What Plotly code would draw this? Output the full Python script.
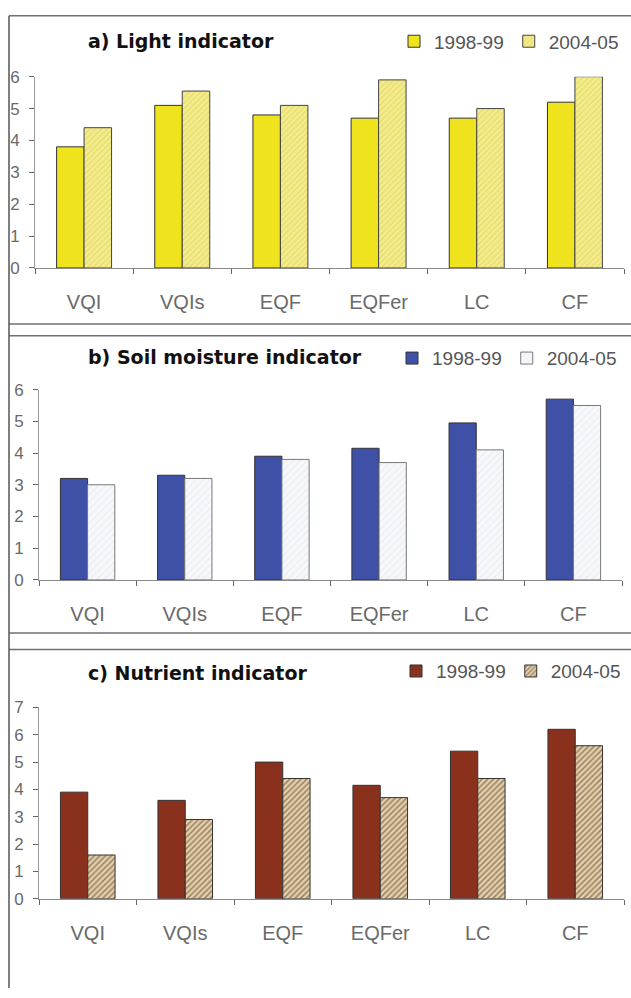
import plotly.graph_objects as go

W, H = 631, 998

categories = ["VQI", "VQIs", "EQF", "EQFer", "LC", "CF"]
series_names = ["1998-99", "2004-05"]

light_1998 = [3.8, 5.1, 4.8, 4.7, 4.7, 5.2]
light_2004 = [4.4, 5.55, 5.1, 5.9, 5.0, 6.0]

moist_1998 = [3.2, 3.3, 3.9, 4.15, 4.95, 5.7]
moist_2004 = [3.0, 3.2, 3.8, 3.7, 4.1, 5.5]

nutr_1998 = [3.9, 3.6, 5.0, 4.15, 5.4, 6.2]
nutr_2004 = [1.6, 2.9, 4.4, 3.7, 4.4, 5.6]

titles = ["a) Light indicator", "b) Soil moisture indicator", "c) Nutrient indicator"]
y_ranges = [[0, 6], [0, 6], [0, 7]]


def px_x(p):
    return p / W


def px_y(p):
    return 1 - p / H


fig = go.Figure()

panels = [
    dict(d1=light_1998, d2=light_2004, c1="#EEE31C",
         pat=dict(shape="/", bgcolor="#F4EC95", fgcolor="#D9CD2E", size=4, solidity=0.35),
         line2="#444444",
         xdom=[35, 624], ydom=[264, 69], ty=33, lx=624, ly=33),
    dict(d1=moist_1998, d2=moist_2004, c1="#3E51A6",
         pat=dict(shape="/", bgcolor="#F5F7FA", fgcolor="#CDD2DC", size=5, solidity=0.15),
         line2="#777777",
         xdom=[39, 622], ydom=[582, 388], ty=355, lx=622, ly=356),
    dict(d1=nutr_1998, d2=nutr_2004, c1="#8A311D",
         pat=dict(shape="/", bgcolor="#E6CFA8", fgcolor="#4E3C2E", size=4, solidity=0.4),
         line2="#333333",
         xdom=[39, 624], ydom=[907, 712], ty=677, lx=626, ly=675),
]

layout_axes = {}
for i, p in enumerate(panels):
    n = "" if i == 0 else str(i + 1)
    leg = "legend" if i == 0 else f"legend{i + 1}"
    xa, ya = f"x{n}", f"y{n}"
    fig.add_trace(go.Bar(
        x=categories, y=p["d1"], name=series_names[0], xaxis=xa, yaxis=ya,
        marker=dict(color=p["c1"], line=dict(color="#333333", width=1)),
        legend=leg,
    ))
    fig.add_trace(go.Bar(
        x=categories, y=p["d2"], name=series_names[1], xaxis=xa, yaxis=ya,
        marker=dict(color=p["pat"]["bgcolor"], pattern=p["pat"],
                    line=dict(color=p["line2"], width=1)),
        legend=leg,
    ))
    layout_axes[f"xaxis{n}"] = dict(
        domain=[px_x(p["xdom"][0]), px_x(p["xdom"][1])],
        anchor=ya, showline=True, linecolor="#8a8a8a", linewidth=1,
        ticks="outside", tickson="boundaries", ticklen=5, tickcolor="#666666",
        tickfont=dict(family="Liberation Sans", size=20, color="#6a6a6a"),
        ticklabelstandoff=16, showgrid=False, zeroline=False, fixedrange=True,
    )
    layout_axes[f"yaxis{n}"] = dict(
        domain=[px_y(p["ydom"][0]), px_y(p["ydom"][1])],
        anchor=xa, range=y_ranges[i], dtick=1, showline=True,
        linecolor="#9a9a9a", linewidth=1, ticks="outside", ticklen=5,
        tickcolor="#666666",
        tickfont=dict(family="Liberation Sans", size=17, color="#6a6a6a"),
        ticklabelstandoff=6, showgrid=False, zeroline=False, fixedrange=True,
    )
    layout_axes[leg] = dict(
        orientation="h", x=px_x(p["lx"]), xanchor="right",
        y=px_y(p["ly"]), yanchor="middle",
        font=dict(family="Liberation Sans", size=19, color="#555555"),
        bgcolor="rgba(0,0,0,0)", borderwidth=0, itemwidth=30,
        traceorder="normal", tracegroupgap=0,
    )

annotations = []
for i, p in enumerate(panels):
    annotations.append(dict(
        text=titles[i], xref="paper", yref="paper", x=px_x(86), y=px_y(p["ty"]),
        xanchor="left", yanchor="middle", showarrow=False,
        font=dict(family="DejaVu Sans", size=19, color="#111111", weight="bold"),
    ))

frame = "#707070"
shapes = []
for yy in [7, 321, 333, 636, 653]:
    shapes.append(dict(type="line", xref="paper", yref="paper",
                       x0=px_x(9), x1=1, y0=px_y(yy), y1=px_y(yy),
                       line=dict(color=frame, width=1.5)))
shapes.append(dict(type="line", xref="paper", yref="paper",
                   x0=px_x(9), x1=px_x(9), y0=px_y(7), y1=0,
                   line=dict(color="#555555", width=1.5)))

fig.update_layout(
    width=W, height=H, margin=dict(l=0, r=0, t=0, b=0),
    paper_bgcolor="white", plot_bgcolor="white",
    barmode="group", bargap=0.44, bargroupgap=0,
    annotations=annotations, shapes=shapes,
    **layout_axes,
)

fig.write_html(
    "out.html",
    config={"displayModeBar": False},
    post_script="document.body.style.margin='0';document.body.style.overflow='hidden';",
)
